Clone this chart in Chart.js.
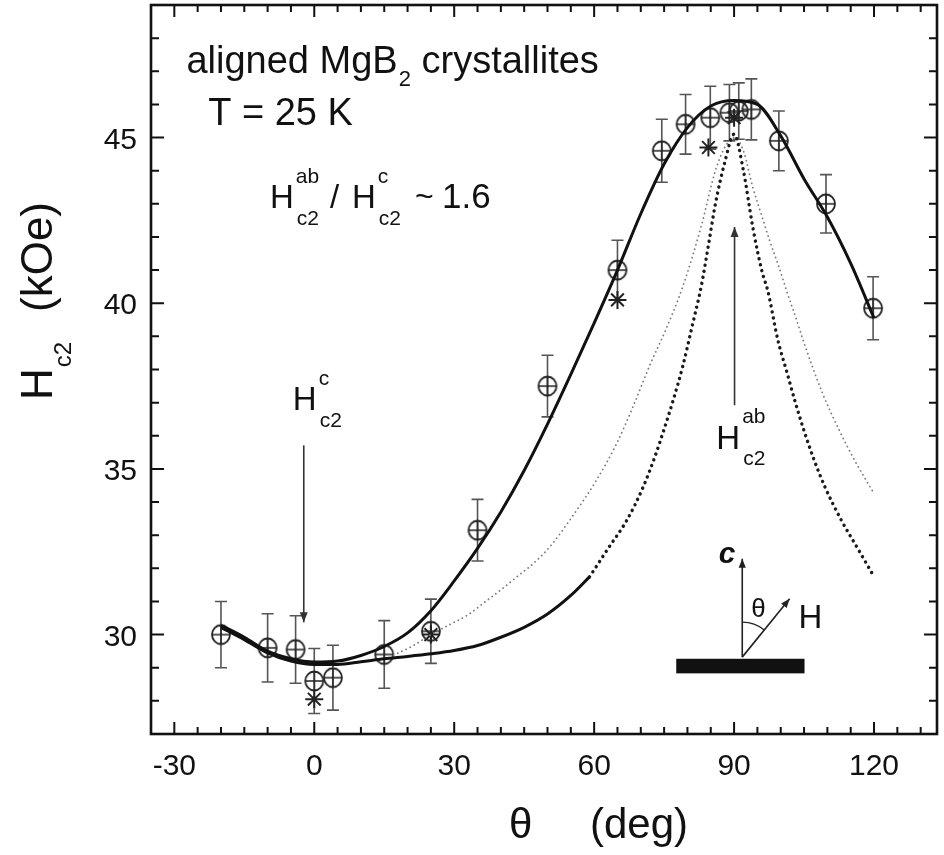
<!DOCTYPE html>
<html>
<head>
<meta charset="utf-8">
<script src="https://cdn.jsdelivr.net/npm/chart.js@4/dist/chart.umd.min.js"></script>
<style>
    html, body { margin: 0; padding: 0; background: #fff; }
    #wrap { width: 944px; height: 855px; position: relative; }
</style>
</head>
<body>
<div id="wrap"><canvas id="hc2Chart"></canvas></div>
<script>
// Measured Hc2 (circles with error bars)
const dataTheta = [-20, -10, -4, 0, 4, 15, 25, 35, 50, 65, 74.5, 79.6, 84.9, 89, 91, 93.7, 99.6, 109.7, 119.8];
const dataHc2   = [30.0, 29.6, 29.55, 28.6, 28.7, 29.4, 30.1, 33.15, 37.5, 41.0, 44.6, 45.4, 45.6, 45.75, 45.8, 45.85, 44.9, 43.0, 39.85];
const dataErr   = [1.0, 1.03, 1.02, 0.98, 0.98, 1.02, 0.97, 0.93, 0.93, 0.9, 0.95, 0.9, 0.95, 0.85, 0.85, 0.92, 0.9, 0.88, 0.95];

// second sample (stars)
const starTheta = [0, 25, 65, 84.5, 90];
const starHc2   = [28.05, 30.0, 40.1, 44.7, 45.6];

// upper solid curve
const upperTheta = [-20, -15, -10, -5, 0, 5, 10, 15, 20, 25, 30, 35, 40, 45, 50, 55, 60, 65, 70, 75, 80, 85, 90, 95, 100, 105, 110, 115, 120];
const upperHc2   = [30.28, 29.92, 29.5, 29.27, 29.17, 29.2, 29.37, 29.64, 30.05, 30.72, 31.62, 32.6, 33.7, 34.95, 36.35, 37.85, 39.4, 41.0, 42.7, 44.2, 45.3, 45.95, 46.12, 46.0, 45.05, 43.75, 42.6, 41.2, 39.55];

// lower solid curve
const lowerTheta = [-20, -15, -10, -5, 0, 5, 10, 15, 20, 25, 30, 35, 40, 45, 50, 55, 59];
const lowerHc2   = [30.22, 29.85, 29.45, 29.2, 29.1, 29.1, 29.18, 29.27, 29.34, 29.42, 29.52, 29.67, 29.92, 30.22, 30.62, 31.18, 31.74];

// heavy dotted curve (continues the lower one)
const heavyTheta = [59, 63, 67, 70.5, 73, 75, 77, 79, 81, 83, 84.5, 86, 88, 90, 92, 94, 96, 97.2, 99.4, 101.2, 103, 105, 107, 109.5, 113, 116.5, 120];
const heavyHc2   = [31.74, 32.6, 33.45, 34.45, 35.36, 36.2, 37.1, 38.1, 39.3, 40.54, 41.75, 43.0, 44.25, 45.1, 44.0, 42.3, 40.95, 40.39, 38.88, 37.98, 37.07, 36.15, 35.33, 34.45, 33.45, 32.6, 31.75];

// light dotted curve
const lightTheta = [17, 21, 25, 29, 33, 36, 40, 43.5, 47, 50.5, 55.5, 60.5, 64.8, 68.3, 72, 75.5, 79, 83, 86, 88, 90, 92, 94, 95.8, 97.6, 99.6, 101.2, 103.5, 105, 109, 112.6, 115.5, 120];
const lightHc2   = [29.38, 29.65, 30.0, 30.3, 30.6, 30.92, 31.35, 31.75, 32.15, 32.65, 33.6, 34.66, 35.76, 36.87, 38.15, 39.25, 40.5, 42.35, 44.0, 44.7, 45.0, 44.6, 43.5, 42.7, 41.9, 41.1, 40.4, 39.45, 38.8, 37.27, 36.15, 35.35, 34.25];

const xTicks = [-30, 0, 30, 60, 90, 120];
const yTicks = [30, 35, 40, 45];

const FONT = "'Liberation Sans', Arial, Helvetica, sans-serif";
const INK = '#111';

function pairs(xs, ys) {
    return xs.map((v, i) => ({ x: v, y: ys[i] }));
}

// circle with a cross, used as point style
function circleCross() {
    const c = document.createElement('canvas');
    c.width = 24; c.height = 24;
    const g = c.getContext('2d');
    g.strokeStyle = '#222';
    g.lineWidth = 1.8;
    g.beginPath();
    g.ellipse(12, 12, 9, 9.5, 0, 0, Math.PI * 2);
    g.stroke();
    g.lineWidth = 1.4;
    g.beginPath();
    g.moveTo(3, 12); g.lineTo(21, 12);
    g.moveTo(12, 2.5); g.lineTo(12, 21.5);
    g.stroke();
    return c;
}

// error bars for the circle data
const errorBars = {
    id: 'errorBars',
    beforeDatasetsDraw(chart) {
        const { ctx, scales: { x, y } } = chart;
        ctx.save();
        ctx.strokeStyle = '#555';
        ctx.lineWidth = 1.6;
        dataTheta.forEach((t, i) => {
            const px = x.getPixelForValue(t);
            const top = y.getPixelForValue(dataHc2[i] + dataErr[i]);
            const bot = y.getPixelForValue(dataHc2[i] - dataErr[i]);
            ctx.beginPath();
            ctx.moveTo(px, top); ctx.lineTo(px, bot);
            ctx.moveTo(px - 6, top); ctx.lineTo(px + 6, top);
            ctx.moveTo(px - 6, bot); ctx.lineTo(px + 6, bot);
            ctx.stroke();
        });
        ctx.restore();
    }
};

// box frame with inward ticks on all four sides, plus tick labels
const frameTicks = {
    id: 'frameTicks',
    afterDatasetsDraw(chart) {
        const { ctx, chartArea: a, scales: { x, y } } = chart;
        ctx.save();
        ctx.strokeStyle = INK;
        ctx.lineWidth = 2.6;
        ctx.strokeRect(a.left, a.top, a.right - a.left, a.bottom - a.top);
        ctx.lineWidth = 2;
        ctx.beginPath();
        for (let v = Math.ceil(x.min / 5) * 5; v <= x.max; v += 5) {
            if (v <= x.min) continue;
            const p = x.getPixelForValue(v);
            const len = v % 30 === 0 ? 12 : 7;
            ctx.moveTo(p, a.bottom); ctx.lineTo(p, a.bottom - len);
            ctx.moveTo(p, a.top); ctx.lineTo(p, a.top + len);
        }
        for (let v = Math.ceil(y.min); v <= y.max; v += 1) {
            if (v <= y.min || v >= y.max) continue;
            const p = y.getPixelForValue(v);
            const len = v % 5 === 0 ? 13 : 8;
            ctx.moveTo(a.left, p); ctx.lineTo(a.left + len, p);
            ctx.moveTo(a.right, p); ctx.lineTo(a.right - len, p);
        }
        ctx.stroke();

        ctx.fillStyle = INK;
        ctx.font = '30px ' + FONT;
        ctx.textBaseline = 'alphabetic';
        ctx.textAlign = 'center';
        xTicks.forEach(v => ctx.fillText(String(v), x.getPixelForValue(v), a.bottom + 41));
        ctx.textAlign = 'right';
        yTicks.forEach(v => ctx.fillText(String(v), a.left - 14, y.getPixelForValue(v) + 11));
        ctx.restore();
    }
};

function put(ctx, text, x, y, size, style) {
    ctx.font = (style || '') + ' ' + size + 'px ' + FONT;
    ctx.fillText(text, x, y);
    return x + ctx.measureText(text).width;
}

function arrow(ctx, x1, y1, x2, y2, head) {
    const ang = Math.atan2(y2 - y1, x2 - x1);
    ctx.beginPath();
    ctx.moveTo(x1, y1); ctx.lineTo(x2, y2);
    ctx.stroke();
    ctx.beginPath();
    ctx.moveTo(x2, y2);
    ctx.lineTo(x2 - head * Math.cos(ang) + head * 0.4 * Math.sin(ang), y2 - head * Math.sin(ang) - head * 0.4 * Math.cos(ang));
    ctx.lineTo(x2 - head * Math.cos(ang) - head * 0.4 * Math.sin(ang), y2 - head * Math.sin(ang) + head * 0.4 * Math.cos(ang));
    ctx.closePath();
    ctx.fill();
}

// H with stacked super/subscript, returns right edge
function hLabel(ctx, x, b, sup, size) {
    const cx = put(ctx, 'H', x, b, size);
    const w1 = put(ctx, sup, cx + 2, b - size * 0.78, 21);
    const w2 = put(ctx, 'c2', cx + 3, b + size * 0.5, 21);
    return Math.max(w1, w2);
}

// text labels, arrows and the small geometry sketch
const annotations = {
    id: 'annotations',
    afterDraw(chart) {
        const { ctx, scales: { x, y } } = chart;
        const px = v => x.getPixelForValue(v);
        const py = v => y.getPixelForValue(v);
        ctx.save();
        ctx.fillStyle = INK;
        ctx.textBaseline = 'alphabetic';
        ctx.textAlign = 'left';

        // sample description
        let b = py(46.94);
        let cx = put(ctx, 'aligned MgB', px(-27.4), b, 38);
        cx = put(ctx, '2', cx + 1, b + 13, 22);
        put(ctx, ' crystallites', cx, b, 38);
        put(ctx, 'T = 25 K', px(-22.75), py(45.37), 38);

        // anisotropy ratio
        b = py(42.86);
        const r0 = px(-9.5);
        hLabel(ctx, r0, b, 'ab', 33);
        put(ctx, '/', r0 + 60, b, 33);
        hLabel(ctx, r0 + 82, b, 'c', 33);
        put(ctx, '~', r0 + 145, b - 1, 32);
        put(ctx, '1.6', r0 + 172, b, 35);

        // Hc2^c label and arrow
        hLabel(ctx, px(-4.6), py(36.77), 'c', 33);
        ctx.strokeStyle = '#333';
        ctx.fillStyle = '#333';
        ctx.lineWidth = 1.6;
        arrow(ctx, px(-2.25), py(35.71), px(-2.25), py(30.37), 10);

        // Hc2^ab label and arrow
        ctx.fillStyle = INK;
        hLabel(ctx, px(86.2), py(35.61), 'ab', 33);
        ctx.fillStyle = '#333';
        arrow(ctx, px(90.1), py(36.92), px(90.1), py(42.3), 10);

        // geometry sketch: substrate, c axis, field direction
        const ox = px(91.75), oy = py(29.32);
        ctx.fillStyle = INK;
        ctx.fillRect(px(77.6), py(29.27), px(105.1) - px(77.6), py(28.83) - py(29.27));
        ctx.strokeStyle = '#222';
        ctx.fillStyle = '#222';
        ctx.lineWidth = 1.6;
        arrow(ctx, ox, oy, ox, py(32.29), 9);
        arrow(ctx, ox, oy, px(101.9), py(31.08), 9);
        ctx.lineWidth = 1.3;
        ctx.beginPath();
        ctx.arc(ox, oy, 35, -Math.PI / 2, -Math.PI / 2 + Math.atan2(px(101.9) - ox, oy - py(31.08)));
        ctx.stroke();
        ctx.fillStyle = INK;
        put(ctx, 'c', px(86.7), py(32.15), 30, 'italic bold');
        put(ctx, 'θ', px(93.7), py(30.52), 26);
        put(ctx, 'H', px(103.8), py(30.19), 33);

        // axis titles
        put(ctx, 'θ', 509, 838, 42);
        put(ctx, '(deg)', 590, 838, 42);

        ctx.save();
        ctx.translate(52, 400);
        ctx.rotate(-Math.PI / 2);
        cx = put(ctx, 'H', 0, 0, 44);
        put(ctx, 'c2', cx + 1, 19, 24);
        put(ctx, '(kOe)', 88, 0, 44);
        ctx.restore();

        ctx.restore();
    }
};

const chart = new Chart(document.getElementById('hc2Chart'), {
    type: 'scatter',
    data: {
        datasets: [
            {
                label: 'upper fit',
                data: pairs(upperTheta, upperHc2),
                showLine: true,
                borderColor: INK,
                borderWidth: 3,
                pointRadius: 0,
                cubicInterpolationMode: 'monotone'
            },
            {
                label: 'lower fit',
                data: pairs(lowerTheta, lowerHc2),
                showLine: true,
                borderColor: INK,
                borderWidth: 3,
                pointRadius: 0,
                cubicInterpolationMode: 'monotone'
            },
            {
                label: 'heavy dotted',
                data: pairs(heavyTheta, heavyHc2),
                showLine: true,
                borderColor: '#1a1a1a',
                borderWidth: 3.4,
                borderDash: [0.1, 6],
                borderCapStyle: 'round',
                pointRadius: 0,
                cubicInterpolationMode: 'monotone'
            },
            {
                label: 'light dotted',
                data: pairs(lightTheta, lightHc2),
                showLine: true,
                borderColor: '#7a7a7a',
                borderWidth: 1.8,
                borderDash: [0.1, 4.5],
                borderCapStyle: 'round',
                pointRadius: 0,
                cubicInterpolationMode: 'monotone'
            },
            {
                label: 'Hc2 data',
                data: pairs(dataTheta, dataHc2),
                showLine: false,
                pointStyle: circleCross(),
                pointRadius: 10
            },
            {
                label: 'Hc2 second sample',
                data: pairs(starTheta, starHc2),
                showLine: false,
                pointStyle: 'star',
                pointRadius: 9,
                borderWidth: 2,
                borderColor: '#222',
                backgroundColor: '#222'
            }
        ]
    },
    options: {
        responsive: true,
        maintainAspectRatio: false,
        animation: false,
        layout: { autoPadding: false, padding: { top: 5, right: 7, left: 151, bottom: 121 } },
        plugins: {
            legend: { display: false },
            tooltip: { enabled: false }
        },
        scales: {
            x: { type: 'linear', display: false, min: -35, max: 133.5 },
            y: { type: 'linear', display: false, min: 27, max: 49 }
        }
    },
    plugins: [errorBars, frameTicks, annotations]
});
</script>
</body>
</html>
